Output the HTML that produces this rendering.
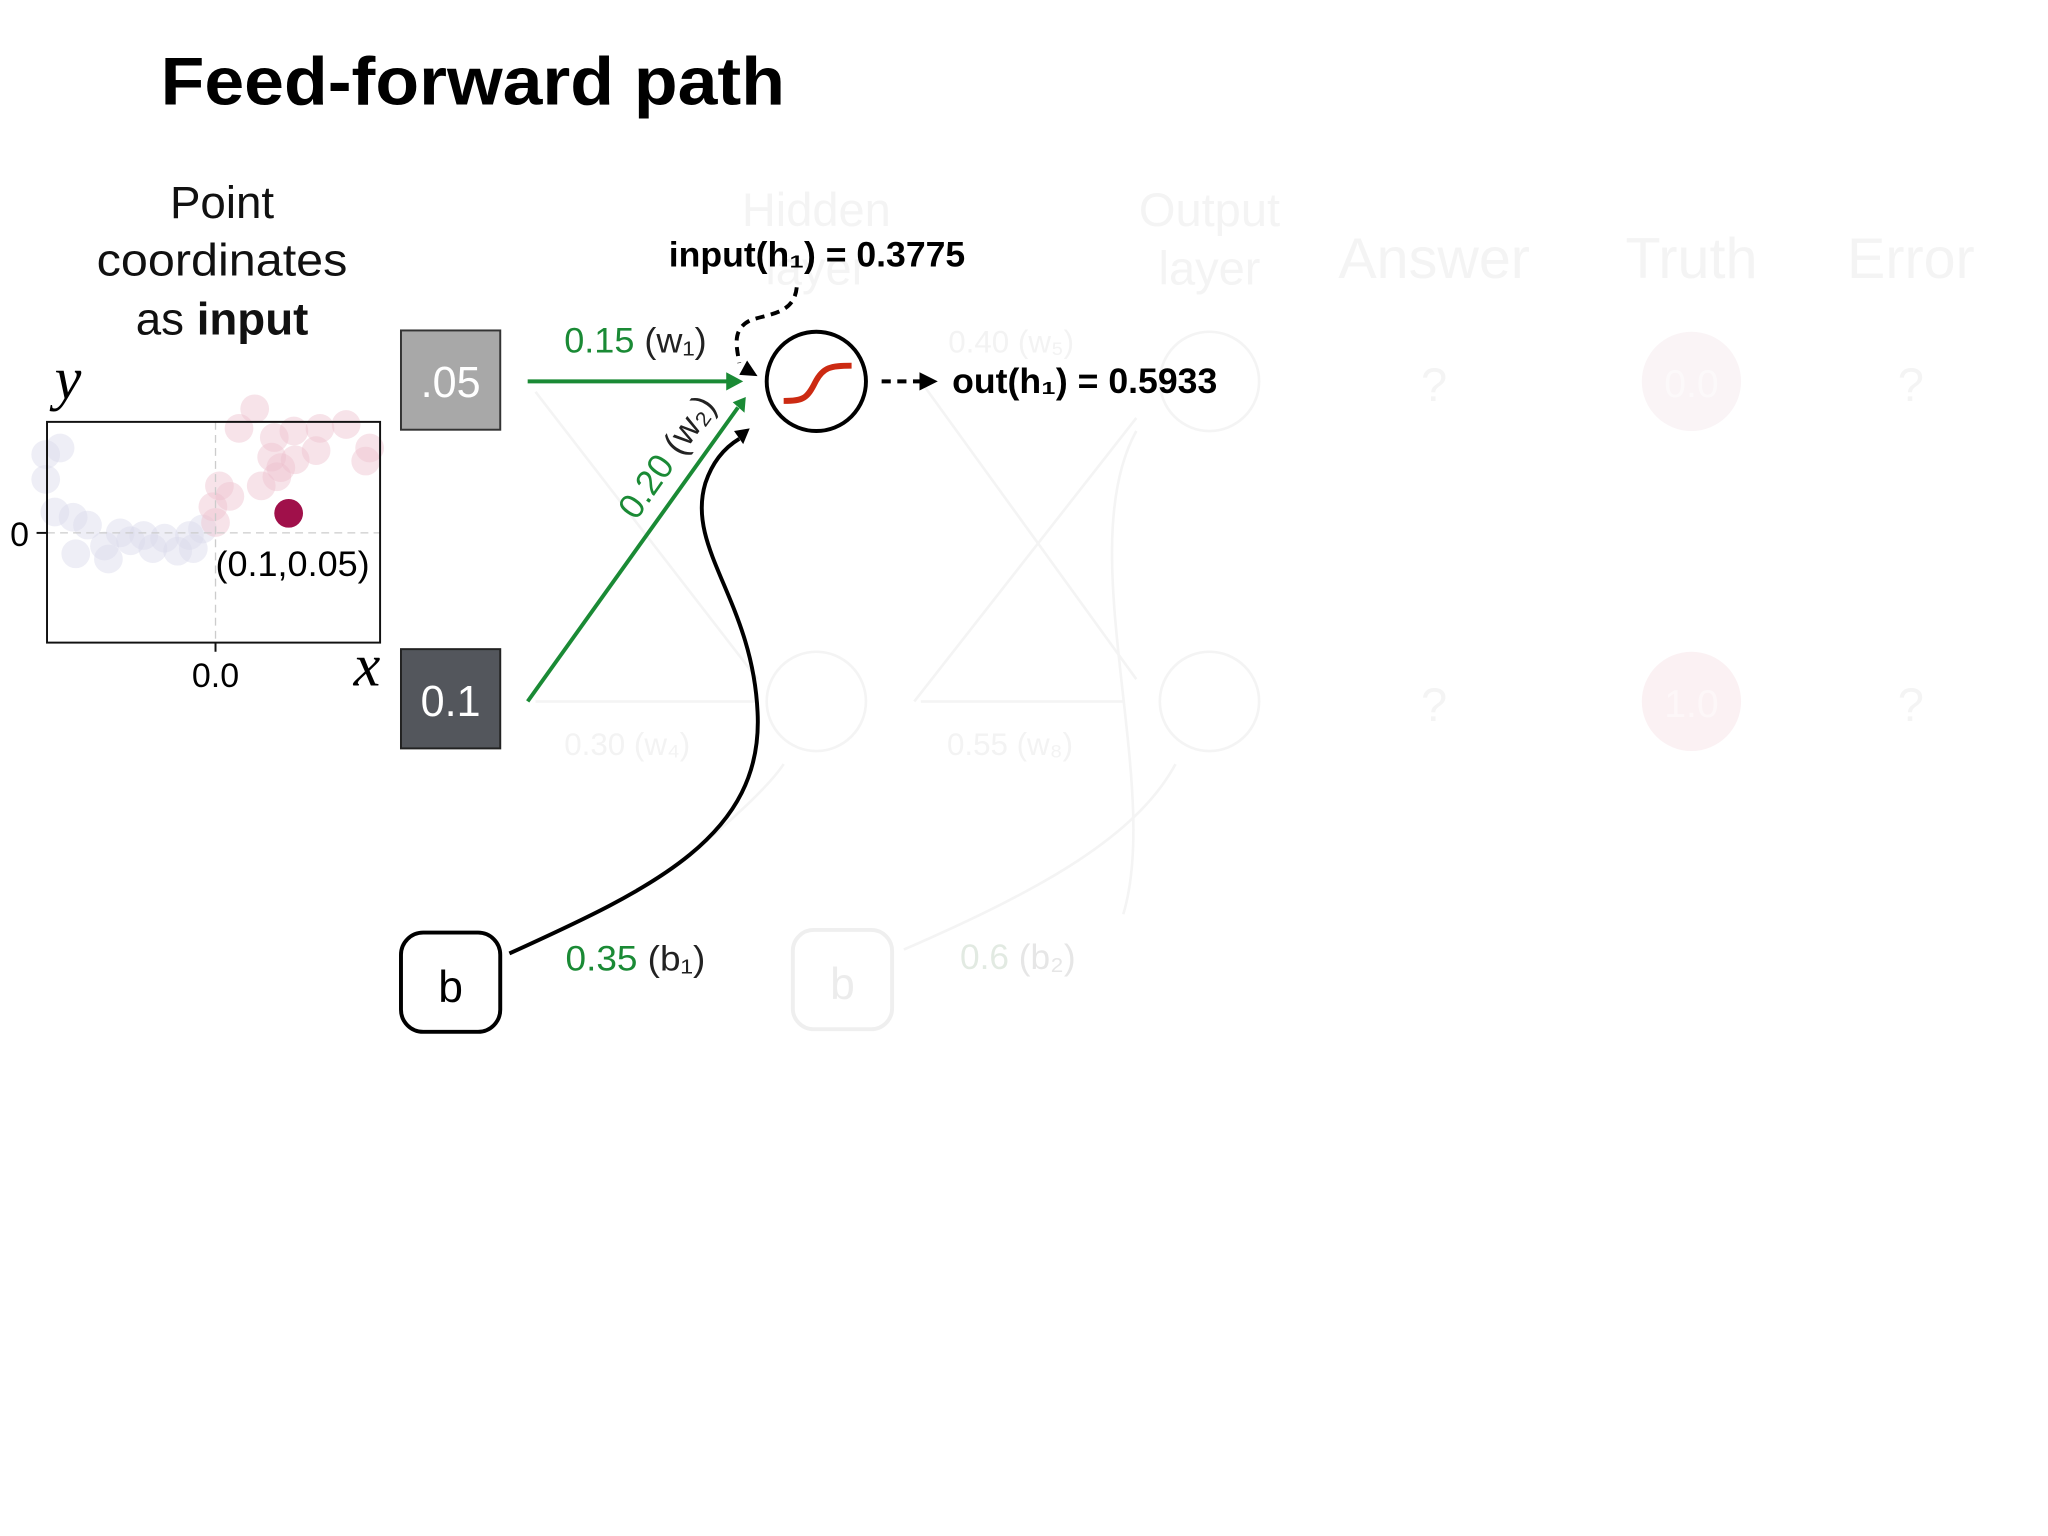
<!DOCTYPE html>
<html><head><meta charset="utf-8"><style>
html,body{margin:0;padding:0;background:#fff;}
svg{display:block;}
text{font-family:"Liberation Sans",sans-serif;}
</style></head><body>
<svg width="2048" height="1536" viewBox="0 0 1568 1176" xmlns="http://www.w3.org/2000/svg">

<text x="123" y="80" font-size="52" font-weight="bold" textLength="478" lengthAdjust="spacingAndGlyphs">Feed-forward path</text>

<g font-size="35" text-anchor="middle" fill="#111">
<text x="170" y="167">Point</text>
<text x="170" y="211" textLength="192" lengthAdjust="spacingAndGlyphs">coordinates</text>
<text x="170" y="256">as <tspan font-weight="bold">input</tspan></text>
</g>

<!-- faded background network -->
<g fill="#f4f4f4" font-size="36" text-anchor="middle">
<text x="625" y="173">Hidden</text><text x="625" y="218">layer</text>
<text x="926" y="173">Output</text><text x="926" y="218">layer</text>
<text x="1098" y="213" font-size="44">Answer</text>
<text x="1295" y="213" font-size="44">Truth</text>
<text x="1463" y="213" font-size="44">Error</text>
<text x="1098" y="307">?</text><text x="1463" y="307">?</text>
<text x="1098" y="552">?</text><text x="1463" y="552">?</text>
</g>
<circle cx="1295" cy="292" r="38" fill="#faf4f6"/>
<circle cx="1295" cy="537" r="38" fill="#fbf1f3"/>
<text x="1295" y="304" font-size="30" fill="#fcf9fa" text-anchor="middle">0.0</text>
<text x="1295" y="549" font-size="30" fill="#fdf7f8" text-anchor="middle">1.0</text>
<g fill="none" stroke="#f4f4f4" stroke-width="2">
<circle cx="625" cy="537" r="38"/>
<circle cx="926" cy="292" r="38"/>
<circle cx="926" cy="537" r="38"/>
<rect x="607" y="712" width="76" height="76" rx="16" stroke="#efefef" stroke-width="3"/>
<line x1="410" y1="300" x2="580" y2="520"/>
<line x1="410" y1="537" x2="580" y2="537"/>
<line x1="705" y1="292" x2="870" y2="520"/>
<line x1="705" y1="537" x2="860" y2="537"/>
<line x1="700" y1="537" x2="870" y2="320"/>
<path d="M520,660 C560,630 590,600 600,585"/>
<path d="M692,727 C800,680 870,640 900,585"/>
<path d="M860,700 C890,600 820,420 870,330"/>
</g>
<g fill="#f3f3f3" font-size="24">
<text x="432" y="578">0.30 (w₄)</text>
<text x="725" y="578">0.55 (w₈)</text>
<text x="726" y="270">0.40 (w₅)</text>
<text x="735" y="742" font-size="27" fill="#e2eae2">0.6 <tspan fill="#e6e6e6">(b₂)</tspan></text>
</g>
<text x="645" y="765" font-size="34" fill="#ececec" text-anchor="middle">b</text>

<!-- plot -->
<g fill-opacity="0.45">
<g fill="#d9d9ea">
<circle cx="35" cy="348" r="11"/><circle cx="46" cy="343" r="11"/><circle cx="35" cy="367" r="11"/>
<circle cx="42" cy="392" r="11"/><circle cx="56" cy="396" r="11"/><circle cx="67" cy="402" r="11"/>
<circle cx="58" cy="424" r="11"/><circle cx="80" cy="418" r="11"/><circle cx="92" cy="408" r="11"/>
<circle cx="100" cy="414" r="11"/><circle cx="110" cy="410" r="11"/><circle cx="117" cy="420" r="11"/>
<circle cx="126" cy="412" r="11"/><circle cx="136" cy="422" r="11"/><circle cx="145" cy="410" r="11"/>
<circle cx="155" cy="405" r="11"/><circle cx="83" cy="428" r="11"/><circle cx="148" cy="420" r="11"/>
</g>
<g fill="#eec0cf">
<circle cx="195" cy="313" r="11"/><circle cx="183" cy="328" r="11"/><circle cx="210" cy="335" r="11"/>
<circle cx="225" cy="330" r="11"/><circle cx="245" cy="328" r="11"/><circle cx="265" cy="325" r="11"/>
<circle cx="283" cy="343" r="11"/><circle cx="280" cy="353" r="11"/><circle cx="208" cy="350" r="11"/>
<circle cx="215" cy="358" r="11"/><circle cx="200" cy="372" r="11"/><circle cx="168" cy="372" r="11"/>
<circle cx="163" cy="388" r="11"/><circle cx="176" cy="380" r="11"/><circle cx="242" cy="345" r="11"/>
<circle cx="226" cy="352" r="11"/><circle cx="165" cy="400" r="11"/><circle cx="212" cy="365" r="11"/>
</g>
</g>
<line x1="36" y1="408" x2="291" y2="408" stroke="#ccc" stroke-width="1" stroke-dasharray="6,4"/>
<line x1="165" y1="323" x2="165" y2="492" stroke="#ccc" stroke-width="1" stroke-dasharray="6,4"/>
<rect x="36" y="323" width="255" height="169" fill="none" stroke="#111" stroke-width="1.5"/>
<line x1="28" y1="408" x2="36" y2="408" stroke="#111" stroke-width="1.5"/>
<line x1="165" y1="492" x2="165" y2="499" stroke="#111" stroke-width="1.5"/>
<circle cx="221" cy="393" r="11" fill="#a0104a"/>
<text x="15" y="418" font-size="26" text-anchor="middle">0</text>
<text x="165" y="526" font-size="26" text-anchor="middle">0.0</text>
<text x="224" y="441" font-size="27" text-anchor="middle" textLength="118" lengthAdjust="spacingAndGlyphs">(0.1,0.05)</text>
<text x="52" y="305" font-size="46" font-style="italic" text-anchor="middle" style="font-family:'Liberation Serif',serif">y</text>
<text x="281" y="525" font-size="46" font-style="italic" text-anchor="middle" style="font-family:'Liberation Serif',serif">x</text>

<!-- inputs -->
<rect x="307" y="253" width="76" height="76" fill="#a8a8a8" stroke="#333" stroke-width="1.5"/>
<text x="345" y="304" font-size="33" fill="#fff" text-anchor="middle">.05</text>
<rect x="307" y="497" width="76" height="76" fill="#53565c" stroke="#222" stroke-width="1.5"/>
<text x="345" y="548" font-size="33" fill="#fff" text-anchor="middle">0.1</text>
<rect x="307" y="714" width="76" height="76" rx="17" fill="#fff" stroke="#000" stroke-width="3"/>
<text x="345" y="767" font-size="34" text-anchor="middle">b</text>

<!-- edges -->
<line x1="404" y1="292" x2="558" y2="292" stroke="#1a8a35" stroke-width="3"/>
<path d="M556,285 L569,292 L556,299z" fill="#1a8a35"/>
<line x1="404" y1="537" x2="565" y2="312" stroke="#1a8a35" stroke-width="3"/>
<path d="M561,308 L571,304 L570,316z" fill="#1a8a35"/>
<path d="M390,730 C500,680 585,640 580,545 C576,460 525,420 540,370 C546,352 556,342 566,336" fill="none" stroke="#000" stroke-width="3"/>
<path d="M562,330 L574,328 L569,340z" fill="#000"/>
<path d="M610,220 C608,240 590,240 575,245 C560,252 564,265 566,278" fill="none" stroke="#000" stroke-width="3" stroke-dasharray="7,5"/>
<path d="M566,287 L580,288 L572,276z" fill="#000"/>
<line x1="675" y1="292" x2="706" y2="292" stroke="#000" stroke-width="3" stroke-dasharray="7,5"/>
<path d="M704,285 L718,292 L704,299z" fill="#000"/>

<!-- hidden node -->
<circle cx="625" cy="292" r="38" fill="#fff" stroke="#000" stroke-width="3"/>
<path d="M600,307 C615,307 618,305 624,293 C630,281 636,280 652,280" fill="none" stroke="#cc2a12" stroke-width="4.5"/>

<!-- labels -->
<text x="432" y="270" font-size="27" textLength="109" lengthAdjust="spacingAndGlyphs"><tspan fill="#1a8a35">0.15</tspan> <tspan fill="#222">(w₁)</tspan></text>
<text transform="translate(518,355) rotate(-55)" font-size="27" text-anchor="middle"><tspan fill="#1a8a35">0.20</tspan> <tspan fill="#222">(w₂)</tspan></text>
<text x="433" y="743" font-size="27" textLength="107" lengthAdjust="spacingAndGlyphs"><tspan fill="#1a8a35">0.35</tspan> <tspan fill="#222">(b₁)</tspan></text>
<text x="512" y="204" font-size="27" font-weight="bold" textLength="227" lengthAdjust="spacingAndGlyphs">input(h₁) = 0.3775</text>
<text x="729" y="301" font-size="27" font-weight="bold" textLength="203" lengthAdjust="spacingAndGlyphs">out(h₁) = 0.5933</text>
</svg>
</body></html>
